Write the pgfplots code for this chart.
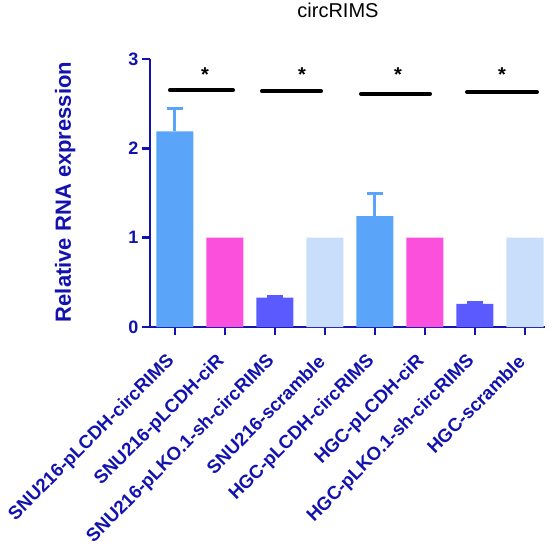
\documentclass[border=0pt]{standalone}
\usepackage{fontspec}
\setmainfont{Liberation Sans}
\usepackage{pgfplots}
\pgfplotsset{compat=1.18}
\definecolor{axblue}{RGB}{18,18,175}
\definecolor{cA}{RGB}{90,165,250}
\definecolor{cB}{RGB}{250,80,220}
\definecolor{cC}{RGB}{90,90,255}
\definecolor{cD}{RGB}{200,222,250}
\begin{document}
\begin{tikzpicture}
\begin{axis}[
  scale only axis, width=395pt, height=268pt,
  xmin=-0.5, xmax=7.4, ymin=0, ymax=3,
  axis lines=left,
  axis line style={-, line width=2.5pt, draw=axblue},
  tick style={line width=2.5pt, draw=axblue},
  major tick length=8pt, tick align=outside,
  xtick={0,1,2,3,4,5,6,7}, ytick={0,1,2,3},
  xticklabels={SNU216-pLCDH-circRIMS,SNU216-pLCDH-ciR,SNU216-pLKO.1-sh-circRIMS,SNU216-scramble,HGC-pLCDH-circRIMS,HGC-pLCDH-ciR,HGC-pLKO.1-sh-circRIMS,HGC-scramble},
  ticklabel style={font=\fontsize{18}{20}\selectfont\bfseries, text=axblue},
  /pgf/number format/assume math mode=true,
  xticklabel style={xshift=-1pt, yshift=-21pt, rotate=45, anchor=east, font=\fontsize{18.6}{21}\selectfont\bfseries},
  clip=false,
]
\coordinate (O) at (rel axis cs:0,0);
\addplot[ybar, bar width=37pt, bar shift=0pt, fill=cA, draw=none,
  error bars/.cd, y dir=plus, y explicit, error mark=|,
  error bar style={line width=3pt, draw=cA},
  error mark options={line width=3pt, mark size=8pt, draw=cA}]
  coordinates {(0,2.19) +- (0,0.26) (4,1.24) +- (0,0.25)};
\addplot[ybar, bar width=37pt, bar shift=0pt, fill=cB, draw=none]
  coordinates {(1,1.0) (5,1.0)};
\addplot[ybar, bar width=37pt, bar shift=0pt, fill=cC, draw=none,
  error bars/.cd, y dir=plus, y explicit, error mark=|,
  error bar style={line width=3pt, draw=cC},
  error mark options={line width=3pt, mark size=8pt, draw=cC}]
  coordinates {(2,0.33) +- (0,0.015) (6,0.26) +- (0,0.012)};
\addplot[ybar, bar width=37pt, bar shift=0pt, fill=cD, draw=none]
  coordinates {(3,1.0) (7,1.0)};
\addplot[black, line width=4pt, line cap=round] coordinates {(-0.1,2.65) (1.16,2.65)};
\addplot[black, line width=4pt, line cap=round] coordinates {(1.74,2.64) (2.92,2.64)};
\addplot[black, line width=4pt, line cap=round] coordinates {(3.72,2.61) (5.1,2.61)};
\addplot[black, line width=4pt, line cap=round] coordinates {(5.84,2.63) (7.24,2.63)};
\node[font=\fontsize{20}{20}\selectfont\bfseries] at (axis cs:0.6,2.82) {*};
\node[font=\fontsize{20}{20}\selectfont\bfseries] at (axis cs:2.54,2.82) {*};
\node[font=\fontsize{20}{20}\selectfont\bfseries] at (axis cs:4.46,2.82) {*};
\node[font=\fontsize{20}{20}\selectfont\bfseries] at (axis cs:6.54,2.82) {*};
\end{axis}
\node[anchor=base,font=\fontsize{20}{24}\selectfont] at ([shift={(188pt,309pt)}]O) {circRIMS};
\node[rotate=90,anchor=base,font=\fontsize{22}{26}\selectfont\bfseries,text=axblue] at ([shift={(-79pt,135pt)}]O) {Relative RNA expression};
\pgfresetboundingbox
\path[use as bounding box] ([shift={(-150pt,-225pt)}]O) rectangle ([shift={(405pt,327pt)}]O);
\end{tikzpicture}
\end{document}
